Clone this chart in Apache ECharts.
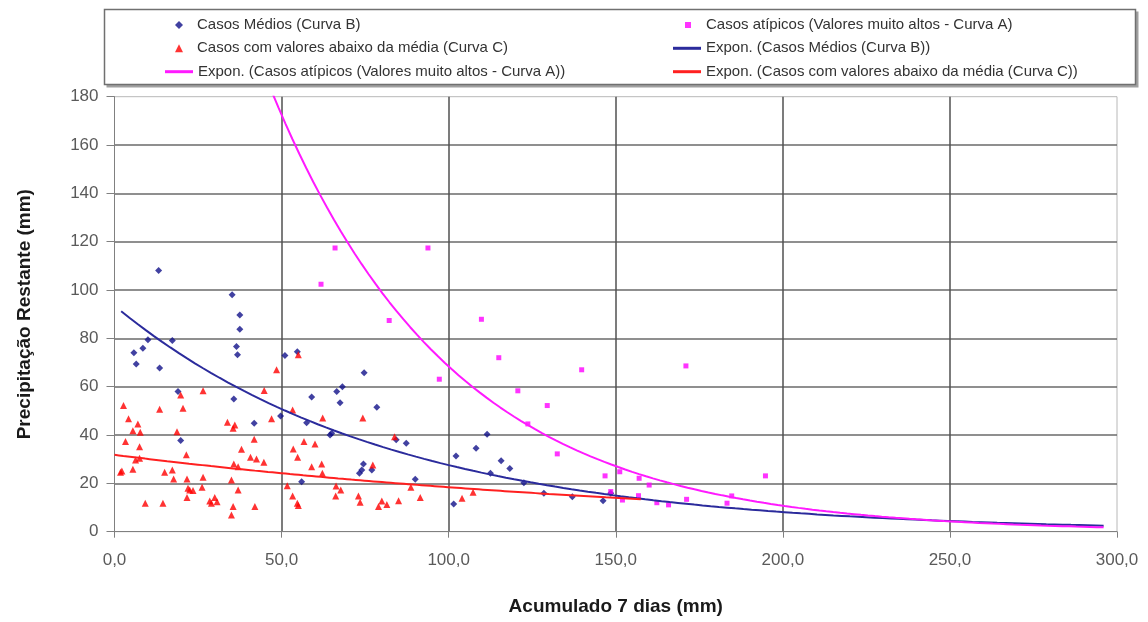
<!DOCTYPE html>
<html>
<head>
<meta charset="utf-8">
<script src="https://cdn.jsdelivr.net/npm/echarts@6/dist/echarts.min.js"></script>
<style>
  html, body { margin: 0; padding: 0; background: #fff; }
  #chart { width: 1148px; height: 622px; }
</style>
</head>
<body>
<div id="chart"></div>
<script>
// Casos Médios (Curva B)
const mediosX = [5.8, 6.5, 8.5, 10, 13.2, 13.5, 17.3, 19, 19.8, 35.2, 37.5, 37.5, 36.5, 36.8, 35.7, 41.8, 49.7, 51, 54.7, 57.5,
  56, 59, 64.5, 65, 66.5, 68.2, 67.5, 74.7, 78.5, 73.3, 74, 74.5, 77, 84.3, 87.3, 90, 101.5, 102.2, 108.2, 111.5,
  115.7, 118.3, 112.5, 122.5, 128.5, 137, 146.2, 148.5];
const mediosY = [74.1, 69.4, 75.9, 79.4, 108.1, 67.7, 79.1, 58, 37.7, 98, 89.7, 83.8, 76.6, 73.2, 54.9, 44.9, 47.9, 72.9, 74.5, 45.1,
  20.7, 55.7, 40, 40.7, 58, 60, 53.4, 65.8, 51.5, 24.2, 25.5, 28, 25.5, 38, 36.6, 21.7, 11.5, 31.3, 34.5, 40.3,
  29.4, 26.2, 24.2, 20.3, 15.9, 14.5, 12.8, 15.9];

// Casos atípicos (Valores muito altos - Curva A)
const atipicosX = [61.8, 66, 93.8, 82.2, 109.8, 97.2, 115, 139.8, 171, 120.7, 129.5, 123.7, 132.5, 146.8, 151.2, 157, 160,
  148.5, 152, 156.8, 162.3, 165.8, 171.2, 184.7, 183.3, 194.8];
const atipicosY = [102.4, 117.4, 117.4, 87.4, 87.9, 63.1, 72, 67, 68.6, 58.3, 52.2, 44.6, 32.2, 23.1, 24.8, 22.1, 19.3,
  16.6, 13.1, 14.9, 12, 11.1, 13.4, 14.8, 11.8, 23.1];

// Casos com valores abaixo da média (Curva C)
const abaixoX = [2.7, 4.2, 7, 5.5, 7.7, 3.3, 7.5, 2.2, 1.8, 5.5, 6.3, 7.5, 9.2, 14.5, 13.5, 19.8, 20.5, 18.7, 21.5, 15,
  17.3, 17.7, 21.7, 22, 22.5, 23.5, 21.7, 26.5, 26.5, 26.2, 28.5, 30, 30.7, 29, 35, 35, 35.5, 37, 35.7, 37,
  33.8, 35.5, 36, 38, 41.8, 40.7, 42.5, 44.7, 42, 44.8, 48.5, 47, 55, 53.3, 53.5, 54.8, 56.7, 51.7, 53.3, 54.7,
  55, 62.3, 74.3, 83.8, 60, 59, 62, 62.2, 77.3, 66.3, 67.7, 66.2, 73, 73.5, 79, 80, 81.5, 85, 88.7, 91.5,
  104, 107.3];
const abaixoY = [52.2, 46.7, 44.6, 41.8, 41.2, 37.3, 35.2, 25.1, 24.6, 25.8, 29.7, 30.4, 11.8, 11.8, 50.7, 56.6, 51.1, 41.4, 31.8, 24.6,
  25.5, 21.8, 21.8, 18, 17.3, 17, 14.2, 58.3, 22.5, 18.4, 12.7, 14.2, 12.4, 11.8, 21.4, 6.9, 10.4, 17.3, 28, 26.9,
  45.3, 42.8, 44.2, 34.1, 38.3, 30.8, 30.1, 28.7, 10.4, 58.4, 67, 46.7, 73.2, 50.4, 34.2, 30.8, 37.3, 19, 14.8, 11.8,
  10.8, 47, 47, 39.3, 36.3, 26.9, 28, 24.2, 27.6, 18.9, 17.3, 14.8, 14.8, 12.2, 10.4, 12.7, 11.3, 12.8, 18.4, 14.2,
  13.8, 16.3];

// Exponential trendlines y = a * e^(b x): [a, b, xStart, xEnd]
const expoB = [93.5, -0.01222, 2, 296];
const expoA = [435, -0.0185, 47, 296];
const expoC = [31.8, -0.00547, 0, 157.5];

const xTicks = [0, 50, 100, 150, 200, 250, 300];
const yTicks = [0, 20, 40, 60, 80, 100, 120, 140, 160, 180];

const names = {
  medios: 'Casos Médios (Curva B)',
  atipicos: 'Casos atípicos (Valores muito altos - Curva A)',
  abaixo: 'Casos com valores abaixo da média (Curva C)',
  expB: 'Expon. (Casos Médios (Curva B))',
  expA: 'Expon. (Casos atípicos (Valores muito altos - Curva A))',
  expC: 'Expon. (Casos com valores abaixo da média (Curva C))'
};

const FONT = '"Liberation Sans", Arial, sans-serif';

function pairs(xs, ys) { return xs.map((x, i) => [x, ys[i]]); }

function trend(c) {
  const [a, b, x0, x1] = c;
  const pts = [];
  const n = 120;
  for (let i = 0; i <= n; i++) {
    const x = x0 + (x1 - x0) * i / n;
    pts.push([x, a * Math.exp(b * x)]);
  }
  return pts;
}

const legendText = { fontSize: 15, color: '#333', fontFamily: FONT, lineHeight: 18 };
function legendItem(name, left, top, icon, w, h, padLeft) {
  return {
    data: [name], left: left, top: top, icon: icon, itemWidth: w, itemHeight: h,
    padding: 0, itemGap: 0, selectedMode: false,
    textStyle: Object.assign({}, legendText, { padding: [0, 0, 0, padLeft] })
  };
}

const chart = echarts.init(document.getElementById('chart'), null, { renderer: 'canvas' });

chart.setOption({
  animation: false,
  backgroundColor: '#fff',
  graphic: [
    { type: 'rect', z: -10, shape: { x: 106.5, y: 11.5, width: 1032, height: 76 }, style: { fill: '#a0a0a0' } },
    { type: 'rect', z: -9, shape: { x: 104.5, y: 9.5, width: 1031, height: 75 }, style: { fill: '#fff', stroke: '#707070', lineWidth: 1.5 } }
  ],
  legend: [
    legendItem(names.medios, 175, 16, 'diamond', 8, 8, 9),
    legendItem(names.atipicos, 685, 16, 'rect', 6, 6, 10),
    legendItem(names.abaixo, 175, 39.3, 'triangle', 8, 8, 9),
    legendItem(names.expB, 673, 39.3, 'rect', 28, 3, 0),
    legendItem(names.expA, 165, 62.7, 'rect', 28, 3, 0),
    legendItem(names.expC, 673, 62.7, 'rect', 28, 3, 0)
  ],
  grid: {
    left: 114.5, right: 31, top: 96.7, bottom: 90.3,
    show: true, borderColor: '#b8b8b8', borderWidth: 1, backgroundColor: '#fff'
  },
  xAxis: {
    type: 'value', min: xTicks[0], max: xTicks[xTicks.length - 1], interval: 50,
    name: 'Acumulado 7 dias (mm)', nameLocation: 'middle', nameGap: 66,
    nameTextStyle: { fontWeight: 'bold', fontSize: 19, color: '#1a1a1a', fontFamily: FONT },
    axisLine: { show: true, lineStyle: { color: '#808080', width: 1 } },
    axisTick: { show: true, length: 6, lineStyle: { color: '#808080' } },
    axisLabel: {
      color: '#5a5a5a', fontSize: 17, margin: 20, fontFamily: FONT,
      formatter: v => v.toFixed(1).replace('.', ',')
    },
    splitLine: { show: true, showMinLine: false, showMaxLine: false, lineStyle: { color: '#505050', width: 1.5 } }
  },
  yAxis: {
    type: 'value', min: yTicks[0], max: yTicks[yTicks.length - 1], interval: 20,
    name: 'Precipitação Restante (mm)', nameLocation: 'middle', nameGap: 80,
    nameTextStyle: { fontWeight: 'bold', fontSize: 19, color: '#1a1a1a', fontFamily: FONT },
    axisLine: { show: true, lineStyle: { color: '#808080', width: 1 } },
    axisTick: { show: true, length: 8, lineStyle: { color: '#808080' } },
    axisLabel: { color: '#5a5a5a', fontSize: 17, margin: 16, fontFamily: FONT },
    splitLine: { show: true, showMinLine: false, showMaxLine: false, lineStyle: { color: '#6a6a6a', width: 1.5 } }
  },
  series: [
    {
      name: names.medios, type: 'scatter', symbol: 'diamond', symbolSize: 7,
      itemStyle: { color: '#12128a' }, data: pairs(mediosX, mediosY)
    },
    {
      name: names.atipicos, type: 'scatter', symbol: 'rect', symbolSize: 5,
      itemStyle: { color: '#ff00ff' }, data: pairs(atipicosX, atipicosY)
    },
    {
      name: names.abaixo, type: 'scatter', symbol: 'triangle', symbolSize: 7,
      itemStyle: { color: '#ff0000' }, data: pairs(abaixoX, abaixoY)
    },
    {
      name: names.expB, type: 'line', showSymbol: false, symbol: 'none', clip: true,
      itemStyle: { color: '#2b2b9c' }, lineStyle: { color: '#2b2b9c', width: 2 }, data: trend(expoB)
    },
    {
      name: names.expA, type: 'line', showSymbol: false, symbol: 'none', clip: true,
      itemStyle: { color: '#ff1aff' }, lineStyle: { color: '#ff1aff', width: 2 }, data: trend(expoA)
    },
    {
      name: names.expC, type: 'line', showSymbol: false, symbol: 'none', clip: true,
      itemStyle: { color: '#ff2020' }, lineStyle: { color: '#ff2020', width: 2 }, data: trend(expoC)
    }
  ]
});
</script>
</body>
</html>
